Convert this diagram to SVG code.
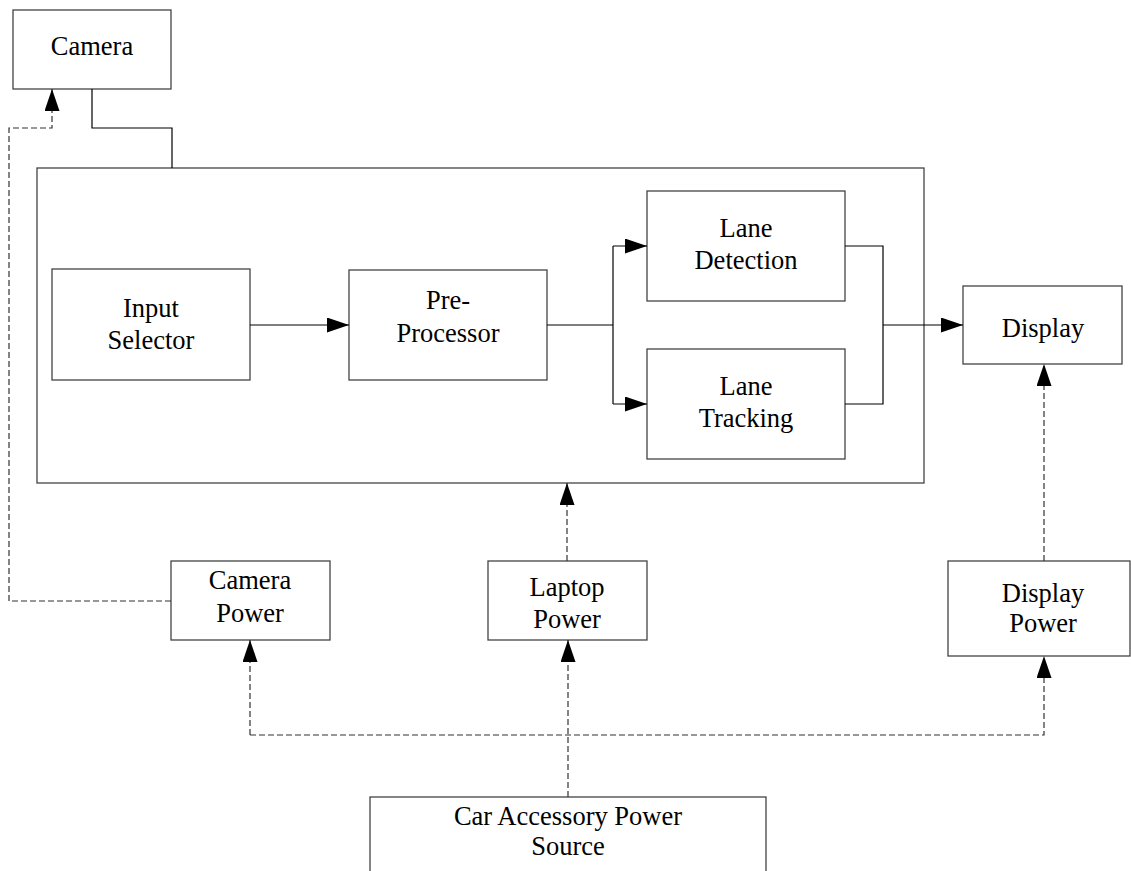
<svg xmlns="http://www.w3.org/2000/svg" width="1131" height="871" viewBox="0 0 1131 871">
<style>
.box{fill:#fff;stroke:#444;stroke-width:1.3}
.t{font-family:"Liberation Serif","Times New Roman",serif;font-size:26.5px;fill:#000;text-anchor:middle}
.ln{fill:none;stroke:#000;stroke-width:1.2}
.dl{fill:none;stroke:#333;stroke-width:1.2;stroke-dasharray:6,3}
</style>
<defs>
<marker id="ah" markerUnits="userSpaceOnUse" markerWidth="24" markerHeight="16" refX="22" refY="7.5" orient="auto">
<path d="M0,0 L22,7.5 L0,15 Z" fill="#000"/>
</marker>
</defs>
<g id="main"><rect class="box" x="37" y="168" width="887" height="315"/></g>
<g id="camera"><rect class="box" x="13" y="10" width="158" height="79"/><text class="t" x="92" y="55">Camera</text></g>
<g id="input-selector"><rect class="box" x="52" y="269" width="198" height="111"/><text class="t" x="151" y="317">Input</text><text class="t" x="151" y="349">Selector</text></g>
<g id="pre-processor"><rect class="box" x="349" y="270" width="198" height="110"/><text class="t" x="448" y="309">Pre-</text><text class="t" x="448" y="342">Processor</text></g>
<g id="lane-detection"><rect class="box" x="647" y="191" width="198" height="110"/><text class="t" x="746" y="237">Lane</text><text class="t" x="746" y="269">Detection</text></g>
<g id="lane-tracking"><rect class="box" x="647" y="349" width="198" height="110"/><text class="t" x="746" y="395">Lane</text><text class="t" x="746" y="427">Tracking</text></g>
<g id="display"><rect class="box" x="963" y="286" width="159" height="78"/><text class="t" x="1043" y="337">Display</text></g>
<g id="camera-power"><rect class="box" x="171" y="561" width="159" height="79"/><text class="t" x="250" y="589">Camera</text><text class="t" x="250" y="622">Power</text></g>
<g id="laptop-power"><rect class="box" x="488" y="561" width="159" height="79"/><text class="t" x="567" y="596">Laptop</text><text class="t" x="567" y="628">Power</text></g>
<g id="display-power"><rect class="box" x="948" y="561" width="182" height="95"/><text class="t" x="1043" y="602">Display</text><text class="t" x="1043" y="632">Power</text></g>
<g id="car-power"><rect class="box" x="370" y="797" width="396" height="90"/><text class="t" x="568" y="825">Car Accessory Power</text><text class="t" x="568" y="855">Source</text></g>
<g id="connectors">
<path class="ln" d="M92,89 V128 H172 V168"/>
<path class="ln" d="M250,325 H349" marker-end="url(#ah)"/>
<path class="ln" d="M547,325 H613"/>
<path class="ln" d="M613,246 V404"/>
<path class="ln" d="M613,246 H647" marker-end="url(#ah)"/>
<path class="ln" d="M613,404 H647" marker-end="url(#ah)"/>
<path class="ln" d="M845,246 H883 V404 H845"/>
<path class="ln" d="M883,325 H963" marker-end="url(#ah)"/>
<path class="dl" d="M171,601 H9 V128 H52 V89" marker-end="url(#ah)"/>
<path class="dl" d="M567,561 V483" marker-end="url(#ah)"/>
<path class="dl" d="M1044,561 V364" marker-end="url(#ah)"/>
<path class="dl" d="M568,797 V640" marker-end="url(#ah)"/>
<path class="dl" d="M250,735 V640" marker-end="url(#ah)"/>
<path class="dl" d="M250,735 H1044 V656" marker-end="url(#ah)"/>
</g>
</svg>
